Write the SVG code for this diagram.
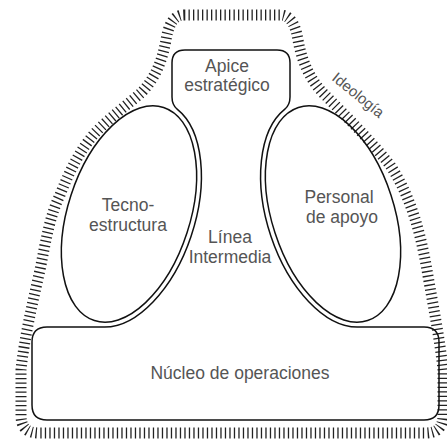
<svg xmlns="http://www.w3.org/2000/svg" width="447" height="444" viewBox="0 0 447 444">
<style>
.hatch{fill:none;stroke:#222;stroke-width:11;stroke-dasharray:1.3 3.2}
.line{fill:none;stroke:#111;stroke-width:1.5}
.lbl{font-family:"Liberation Sans",Arial,sans-serif;font-size:17.5px;fill:#555;text-anchor:middle}
</style>
<rect width="447" height="444" fill="#fff"/>
<g id="ideologia">
<path class="hatch" d="M184,15 L280,15 C292,15 296,28 298,40 C302,62 310,80 325,95 C345,115 370,140 390,165 C410,195 420,230 427,270 C433,305 440,340 443,370 L443,415 C443,428 437,433 425,433 L40,433 C27,433 21,428 21,415 L21,370 C24,340 32,305 40,270 C46,240 50,215 60,195 C70,170 80,150 95,133 C110,117 130,103 142,92 C155,78 162,62 166,40 C168,28 172,15 184,15 Z"/>
<text class="lbl" x="355" y="99" style="font-size:15px" transform="rotate(39 355 99)">Ideología</text>
</g>
<g id="connectors">
<path class="line" d="M185,50 L277,50 Q290,50 290,63 L290,97 C290,103 287.7,106.9 284.6,109.4 A66 117 -18 0 0 357.7,327.1 L424,327 Q439,327 439,342 L439,405 Q439,420 424,420 L47,420 Q32,420 32,405 L32,342 Q32,327 47,327 L104.3,327.1 A66 117 18 0 0 177.4,109.4 C174.3,106.9 172,103 172,97 L172,63 Q172,50 185,50 Z"/>
</g>
<g id="apice">
<text class="lbl" x="227" y="72">Apice</text>
<text class="lbl" x="227" y="91">estratégico</text>
</g>
<g id="linea">
<text class="lbl" x="230" y="243">Línea</text>
<text class="lbl" x="230" y="263">Intermedia</text>
</g>
<g id="tecnoestructura">
<ellipse class="line" cx="129" cy="214" rx="61" ry="112" transform="rotate(18 129 214)"/>
<text class="lbl" x="128" y="211">Tecno-</text>
<text class="lbl" x="128" y="231">estructura</text>
</g>
<g id="apoyo">
<ellipse class="line" cx="333" cy="214" rx="61" ry="112" transform="rotate(-18 333 214)"/>
<text class="lbl" x="339" y="203">Personal</text>
<text class="lbl" x="342" y="223">de apoyo</text>
</g>
<g id="nucleo">
<text class="lbl" x="240" y="379">Núcleo de operaciones</text>
</g>
</svg>
